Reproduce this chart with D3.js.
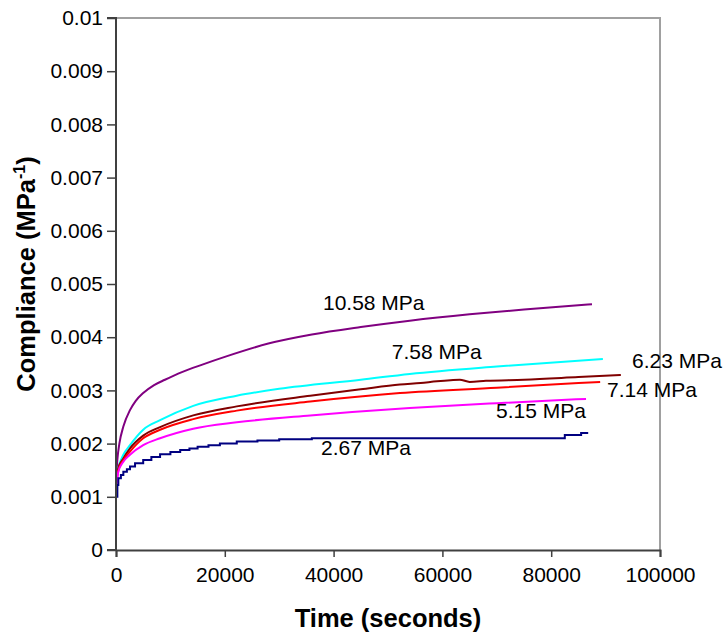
<!DOCTYPE html>
<html><head><meta charset="utf-8">
<script src="https://cdn.jsdelivr.net/npm/d3@7"></script>
<style>body{margin:0;background:#fff;} text{font-family:Arial,"Liberation Sans",sans-serif;}</style>
</head><body>
<svg id="chart" width="728" height="639"></svg>
<script>
// ---- data (time in seconds, compliance in 1/MPa) ----
const xTicks = [0, 20000, 40000, 60000, 80000, 100000];
const yTicks = [0, 0.001, 0.002, 0.003, 0.004, 0.005, 0.006, 0.007, 0.008, 0.009, 0.01];

const s1058_t = [0, 250, 620, 1350, 2570, 3600, 5000, 7000, 9000, 12000, 16000, 20000, 28000, 36000, 45000, 54000, 65000, 75000, 87500];
const s1058_c = [0.0013, 0.0017, 0.0020, 0.00232, 0.00263, 0.0028, 0.00295, 0.0031, 0.0032, 0.00334, 0.00349, 0.00363, 0.00388, 0.00405, 0.00419, 0.00431, 0.00443, 0.00452, 0.00462];

const s758_t = [0, 430, 1350, 2570, 5000, 8100, 14200, 22200, 30000, 45000, 54000, 70000, 89500];
const s758_c = [0.00132, 0.00154, 0.00179, 0.00197, 0.00226, 0.00244, 0.00271, 0.0029, 0.00303, 0.0032, 0.00331, 0.00345, 0.00359];

const s623_t = [0, 430, 1350, 2570, 5000, 8100, 14200, 22200, 35700, 45000, 52200, 56000, 59000, 61500, 63200, 65000, 68000, 75000, 85000, 92800];
const s623_c = [0.0013, 0.00154, 0.00172, 0.00191, 0.00215, 0.00231, 0.00253, 0.0027, 0.0029, 0.00302, 0.00311, 0.00314, 0.00317, 0.00319, 0.0032, 0.00316, 0.00318, 0.0032, 0.00325, 0.00329];

const s714_t = [0, 430, 1350, 2570, 5000, 8100, 14200, 22200, 35700, 52200, 70000, 89000];
const s714_c = [0.00119, 0.0015, 0.00169, 0.00185, 0.0021, 0.00226, 0.00246, 0.00262, 0.00279, 0.00295, 0.00305, 0.00316];

const s515_t = [0, 430, 1350, 2570, 5000, 8100, 14200, 22200, 35700, 54000, 70000, 86400];
const s515_c = [0.00113, 0.00147, 0.00166, 0.00179, 0.00197, 0.0021, 0.00228, 0.0024, 0.00253, 0.00267, 0.00276, 0.00284];

const s267_t = [0, 250, 430, 900, 1350, 2000, 2570, 3500, 5000, 6500, 8100, 10000, 11800, 13500, 15000, 17000, 19100, 22200, 26000, 30000, 36000, 60000, 82500, 85500, 86800];
const s267_c = [0.0010, 0.00122, 0.00135, 0.00141, 0.00147, 0.00152, 0.00157, 0.00163, 0.00169, 0.00175, 0.0018, 0.00184, 0.00188, 0.00191, 0.00194, 0.00197, 0.0020, 0.00204, 0.00206, 0.00208, 0.0021, 0.0021, 0.00216, 0.0022, 0.0022];

const seriesNames = ["10.58 MPa", "7.58 MPa", "6.23 MPa", "7.14 MPa", "5.15 MPa", "2.67 MPa"];
const seriesColors = ["#800080", "#00ffff", "#800000", "#ff0000", "#ff00ff", "#000080"];
const seriesT = [s1058_t, s758_t, s623_t, s714_t, s515_t, s267_t];
const seriesC = [s1058_c, s758_c, s623_c, s714_c, s515_c, s267_c];
// label anchor (data coords, left/baseline)
const labelT = [38050, 50700, 94850, 90260, 69850, 37700];
const labelC = [0.00451, 0.00359, 0.00342, 0.002876, 0.002481, 0.001786];

// ---- layout ----
const svg = d3.select("#chart");
const L = 116, T = 18, R = 660, B = 550;
const x = d3.scaleLinear().domain([0, 100000]).range([L, R]);
const y = d3.scaleLinear().domain([0, 0.01]).range([B, T]);

// frame (top/right gray)
svg.append("path").attr("d", `M${L},${T}H${R}V${B}`).attr("fill", "none").attr("stroke", "#a0a0a0").attr("stroke-width", 2);

// series
seriesT.forEach((ts, i) => {
  const pts = ts.map((t, j) => [t, seriesC[i][j]]);
  const line = d3.line().x(d => x(d[0])).y(d => y(d[1]))
    .curve(i === 5 ? d3.curveStepAfter : d3.curveMonotoneX);
  svg.append("path").datum(pts).attr("d", line).attr("fill", "none")
    .attr("stroke", seriesColors[i]).attr("stroke-width", 2);
});

// axes
const yAxis = d3.axisLeft(y).tickValues(yTicks).tickSize(9).tickPadding(4)
  .tickFormat(v => v === 0 ? "0" : d3.format(".3~f")(v));
const gy = svg.append("g").attr("transform", `translate(${L},0)`).call(yAxis);
const xAxis = d3.axisBottom(x).tickValues(xTicks).tickSize(7).tickPadding(10).tickFormat(d3.format("d"));
const gx = svg.append("g").attr("transform", `translate(0,${B})`).call(xAxis);
[gx, gy].forEach(g => {
  g.select(".domain").attr("stroke", "#404040").attr("stroke-width", 2);
  g.selectAll(".tick line").attr("stroke", "#404040").attr("stroke-width", 1.5);
  g.selectAll(".tick text").attr("font-size", 21).attr("fill", "#000")
    .attr("font-family", "Arial, 'Liberation Sans', sans-serif");
});
gy.select(".domain").attr("d", `M-9,${T}H0V${B}H-9`);

// series labels
seriesNames.forEach((n, i) => {
  svg.append("text").attr("x", x(labelT[i])).attr("y", y(labelC[i]))
    .attr("font-size", 21).attr("fill", "#000").text(n);
});

// axis titles
svg.append("text").attr("x", 388).attr("y", 627).attr("text-anchor", "middle")
  .attr("font-size", 25.5).attr("font-weight", "bold").text("Time (seconds)");
const yt = svg.append("text").attr("transform", "translate(35,274) rotate(-90)")
  .attr("text-anchor", "middle").attr("font-size", 25.5).attr("font-weight", "bold");
yt.append("tspan").text("Compliance (MPa");
yt.append("tspan").attr("font-size", 16).attr("dy", -10).text("-1");
yt.append("tspan").attr("dy", 10).text(")");
</script>
</body></html>
